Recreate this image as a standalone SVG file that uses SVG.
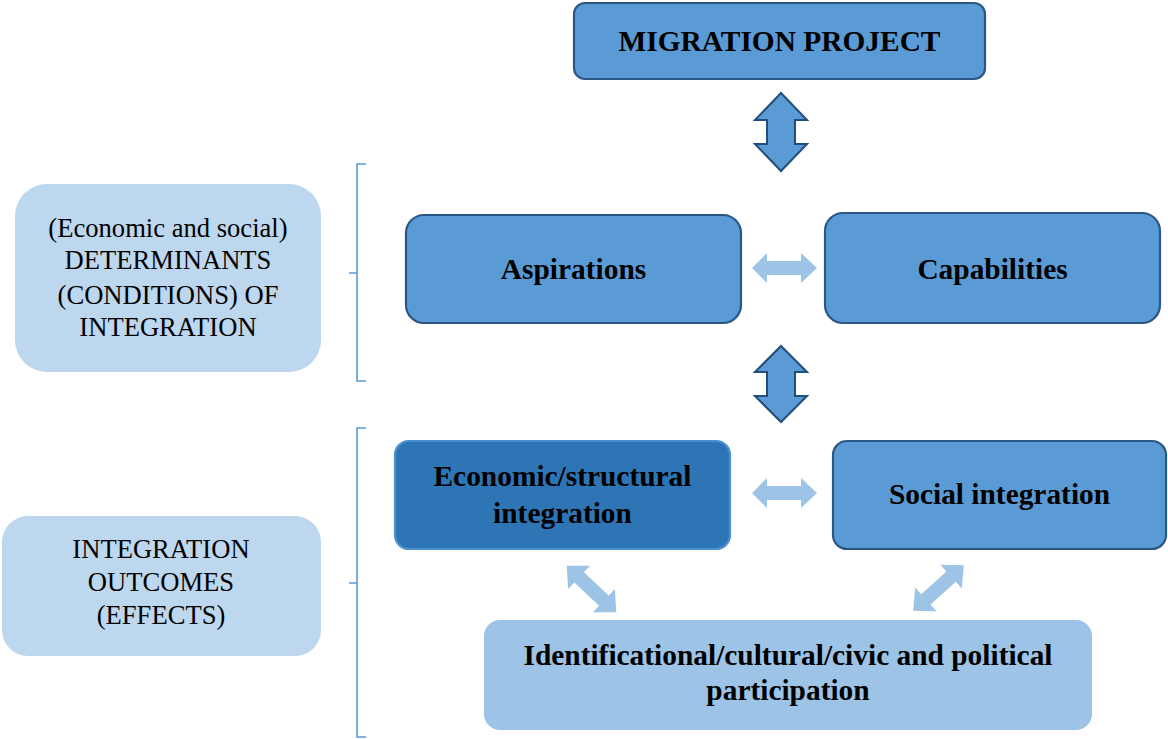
<svg xmlns="http://www.w3.org/2000/svg" width="1168" height="739" viewBox="0 0 1168 739">
<defs>
<style>
.main{fill:#5B9BD5;stroke:#2A5783;stroke-width:2.2}
.dark{fill:#2E75B6;stroke:#4A8FD0;stroke-width:2.2}
.pale{fill:#9DC3E6}
.side{fill:#BDD7EE}
.bt{font-family:"Liberation Serif","Times New Roman",serif;font-weight:bold;font-size:29.4px;fill:#000;text-anchor:middle}
.rt{font-family:"Liberation Serif","Times New Roman",serif;font-size:26.6px;fill:#000;text-anchor:middle}
.vArrow{fill:#5B9BD5;stroke:#1F4E79;stroke-width:2;stroke-linejoin:miter}
.hArrow{fill:#9DC3E6}
.brace{fill:none;stroke:#5B9BD5;stroke-width:1.6}
</style>
<path id="dbl" d="M-34,0 L-17,-16 L-17,-7 L17,-7 L17,-16 L34,0 L17,16 L17,7 L-17,7 L-17,16 Z"/>
</defs>
<rect width="1168" height="739" fill="#fff"/>

<g id="determinants">
<rect class="side" x="15" y="184" width="306" height="188" rx="32"/>
<text class="rt" x="168" y="237">(Economic and social)</text>
<text class="rt" x="168" y="269">DETERMINANTS</text>
<text class="rt" x="168" y="304">(CONDITIONS) OF</text>
<text class="rt" x="168" y="336">INTEGRATION</text>
</g>
<g id="outcomes">
<rect class="side" x="2" y="516" width="319" height="140" rx="26"/>
<text class="rt" x="161" y="558">INTEGRATION</text>
<text class="rt" x="161" y="591">OUTCOMES</text>
<text class="rt" x="161" y="624">(EFFECTS)</text>
</g>

<g id="migration-project">
<rect class="main" x="574" y="3" width="411" height="76" rx="11"/>
<text class="bt" x="779.5" y="51">MIGRATION PROJECT</text>
</g>
<g id="aspirations">
<rect class="main" x="406" y="215" width="335" height="108" rx="18"/>
<text class="bt" x="573.5" y="279">Aspirations</text>
</g>
<g id="capabilities">
<rect class="main" x="825" y="213" width="335" height="110" rx="18"/>
<text class="bt" x="992.5" y="279">Capabilities</text>
</g>
<g id="economic">
<rect class="dark" x="395" y="441" width="335" height="108" rx="14"/>
<text class="bt" x="562.5" y="486">Economic/structural</text>
<text class="bt" x="562.5" y="523">integration</text>
</g>
<g id="social">
<rect class="main" x="833" y="441" width="333" height="108" rx="14"/>
<text class="bt" x="999.5" y="504">Social integration</text>
</g>
<g id="identificational">
<rect class="pale" x="484" y="620" width="608" height="110" rx="16"/>
<text class="bt" x="788" y="665">Identificational/cultural/civic and political</text>
<text class="bt" x="788" y="700">participation</text>
</g>

<g id="connectors">
<path class="vArrow" d="M781,93 L807,120 L795,120 L795,144 L807,144 L781,171 L755,144 L767,144 L767,120 L755,120 Z"/>
<path class="vArrow" d="M781,346 L807,372 L795,372 L795,396 L807,396 L781,422 L755,396 L767,396 L767,372 L755,372 Z"/>
<path class="hArrow" d="M752,268 L767,253 L767,261 L801,261 L801,253 L817,268 L801,283 L801,275 L767,275 L767,283 Z"/>
<path class="hArrow" d="M752,493 L767,478 L767,486 L801,486 L801,478 L817,493 L801,508 L801,500 L767,500 L767,508 Z"/>
<use href="#dbl" class="hArrow" transform="translate(591.5,589) rotate(43.2)"/>
<use href="#dbl" class="hArrow" transform="translate(938.5,588) rotate(-42)"/>
<path class="brace" d="M366,164 L357,164 L357,381 L366,381 M357,273 L349,273"/>
<path class="brace" d="M366,428 L357,428 L357,737 L366,737 M357,583 L349,583"/>
</g>
</svg>
